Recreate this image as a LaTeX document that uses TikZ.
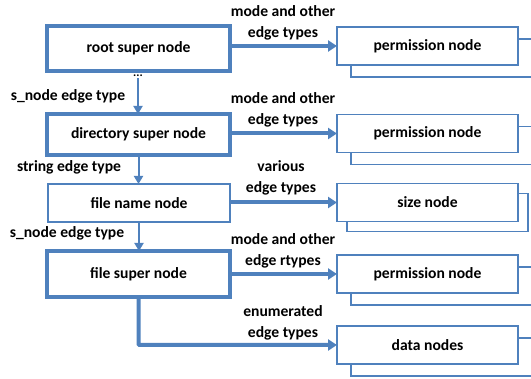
\documentclass[tikz,border=0pt]{standalone}
\usepackage{fontspec}
\setmainfont{Carlito}
\usetikzlibrary{arrows.meta,shadows}
\definecolor{ob}{HTML}{4F81BD}
\begin{document}
\begin{tikzpicture}[x=1pt,y=-1pt,
  font=\fontsize{15.6}{21}\selectfont\bfseries,
  supernode/.style={draw=ob,line width=4pt,fill=white,inner sep=0pt,outer sep=0pt,minimum width=183pt},
  namenode/.style={draw=ob,line width=1.6pt,fill=white,inner sep=0pt,outer sep=0pt,minimum width=182pt,minimum height=38pt},
  rightbox/.style={draw=ob,line width=1.6pt,fill=white,inner sep=0pt,outer sep=0pt,minimum width=181pt,minimum height=38pt},
  stacknode/.style={rightbox,
    copy shadow={shadow xshift=14pt,shadow yshift=-12pt,draw=ob,line width=1.6pt,fill=white}},
  sizestack/.style={rightbox,
    copy shadow={shadow xshift=10pt,shadow yshift=-10pt,draw=ob,line width=1.6pt,fill=white}},
  thickarrow/.style={draw=ob,line width=4pt,-{Triangle[length=9pt,width=11pt]}},
  thinarrow/.style={draw=ob,line width=2pt,-{Triangle[length=8pt,width=9pt]}},
  lbl/.style={inner sep=0pt,align=center}
]
\useasboundingbox (0,0) rectangle (531,379);

% main column
\node[supernode,minimum height=45pt] (root) at (138.5,48.5) {root super node};
\node[supernode,minimum height=41pt] (dir) at (138.5,134.5) {directory super node};
\node[namenode] (fname) at (139,203) {file name node};
\node[supernode,minimum height=46pt] (fsuper) at (138.5,274) {file super node};

% right column
\node[stacknode] (p1) at (427.5,46) {permission node};
\node[stacknode] (p2) at (427.5,133.5) {permission node};
\node[sizestack] (size) at (427.5,202.5) {size node};
\node[stacknode] (p3) at (427.5,274) {permission node};
\node[stacknode] (data) at (427.5,345) {data nodes};

% dots
\node[inner sep=1pt,font=\fontsize{12}{12}\selectfont\bfseries] (dots) at (138,76) {...};

% vertical arrows
\draw[thinarrow] (dots.south) -- (dots.south |- dir.north);
\draw[thinarrow] (dir.south) -- (dir.south |- fname.north);
\draw[thinarrow] (fname.south) -- (fname.south |- fsuper.north);

% horizontal arrows
\draw[thickarrow] (root.east |- p1.west) -- (p1.west);
\draw[thickarrow] (dir.east |- p2.west) -- (p2.west);
\draw[thickarrow] (fname.east |- size.west) -- (size.west);
\draw[thickarrow] (fsuper.east |- p3.west) -- (p3.west);
\draw[thickarrow,rounded corners=1pt] (fsuper.south) |- (data.west);

% left labels
\node[lbl] (l1) at (68,96) {s\_node edge type};
\node[lbl] (l2) at (69,167) {string edge type};
\node[lbl] (l3) at (67,233) {s\_node edge type};

% right labels
\node[lbl] (r1) at (283,22.5) {mode and other\\edge types};
\node[lbl] (r2) at (283,110) {mode and other\\edge types};
\node[lbl] (r3) at (281,178) {various\\edge types};
\node[lbl] (r4) at (283,251) {mode and other\\edge rtypes};
\node[lbl] (r5) at (283,323) {enumerated\\edge types};
\end{tikzpicture}
\end{document}
